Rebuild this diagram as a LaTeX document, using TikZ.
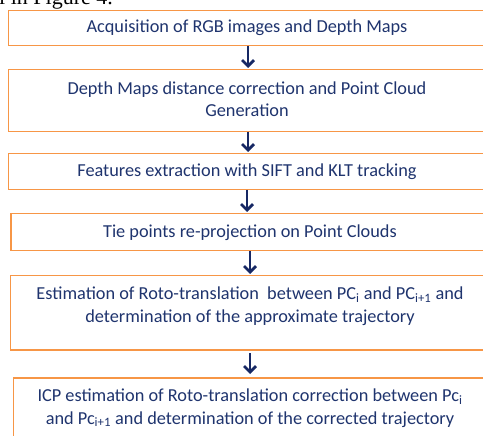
\documentclass[tikz,border=0pt]{standalone}
\usepackage{fontspec}
\setmainfont{Carlito}
\newfontfamily\serifbody{Liberation Serif}
\usetikzlibrary{arrows.meta}
\definecolor{boxedge}{RGB}{247,150,70}
\definecolor{navy}{RGB}{31,52,110}
\definecolor{arrowblue}{RGB}{22,40,100}
\tikzset{
  stepbox/.style={draw=boxedge, line width=1.5pt, rectangle, inner sep=0pt, anchor=north west},
  steptext/.style={text=navy, font=\fontsize{18.3}{22.5}\selectfont, align=center, inner sep=0pt},
  flow/.style={draw=arrowblue, line width=2.7pt, -{Straight Barb[length=6pt,width=12pt,line width=2.7pt]}},
}
\begin{document}
\begin{tikzpicture}[x=1pt,y=-1pt]
\useasboundingbox (0,0) rectangle (483,436);
\clip (0,0) rectangle (483,436);
\fill[white] (0,0) rectangle (483,436);

% running text of the page above the chart
\node[anchor=base west, inner sep=0pt, font=\serifbody\fontsize{22}{24}\selectfont] (caption) at (-1,4.5) {l in Figure 4.};

% process boxes
\node[stepbox, minimum width=490pt, minimum height=35pt] (b1) at (7.5,10) {};
\node[stepbox, minimum width=490pt, minimum height=62pt] (b2) at (7.5,69) {};
\node[stepbox, minimum width=490pt, minimum height=36pt] (b3) at (7.5,153) {};
\node[stepbox, minimum width=490pt, minimum height=37pt] (b4) at (10,213) {};
\node[stepbox, minimum width=490pt, minimum height=74pt] (b5) at (9.5,275) {};
\node[stepbox, minimum width=490pt, minimum height=80pt] (b6) at (12.7,377) {};

% box labels
\node[steptext] (t1) at (247,28) {Acquisition of RGB images and Depth Maps};
\node[steptext] (t2) at (247,99) {Depth Maps distance correction and Point Cloud\\Generation};
\node[steptext] (t3) at (247,172) {Features extraction with SIFT and KLT tracking};
\node[steptext] (t4) at (250,233) {Tie points re-projection on Point Clouds};
\node[steptext] (t5) at (250,306) {Estimation of Roto-translation\ \ between PC\textsubscript{i} and PC\textsubscript{i+1} and\\determination of the approximate trajectory};
\node[steptext] (t6) at (250,408) {ICP estimation of Roto-translation correction between Pc\textsubscript{i}\\and Pc\textsubscript{i+1} and determination of the corrected trajectory};

% connectors
\coordinate (a1s) at (248,46);  \coordinate (a1e) at (248,68);
\coordinate (a2s) at (248,132); \coordinate (a2e) at (248,152);
\coordinate (a3s) at (247,190); \coordinate (a3e) at (247,212);
\coordinate (a4s) at (250,251); \coordinate (a4e) at (250,274);
\coordinate (a5s) at (250,353); \coordinate (a5e) at (250,374);
\draw[flow] (a1s) -- (a1e);
\draw[flow] (a2s) -- (a2e);
\draw[flow] (a3s) -- (a3e);
\draw[flow] (a4s) -- (a4e);
\draw[flow] (a5s) -- (a5e);
\end{tikzpicture}
\end{document}
